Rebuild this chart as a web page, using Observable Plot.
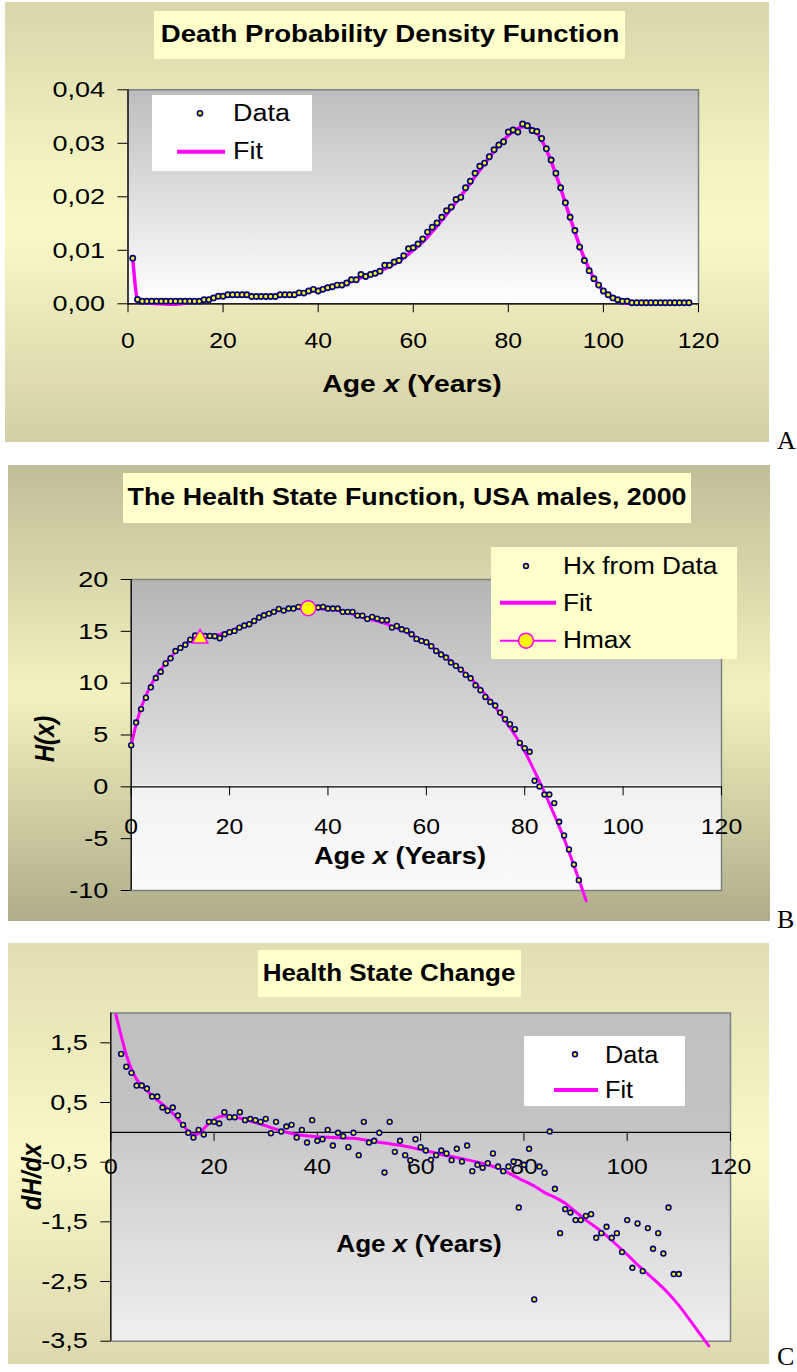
<!DOCTYPE html>
<html>
<head>
<meta charset="utf-8">
<title>Death Probability Density / Health State Function / Health State Change</title>
<script src="https://cdn.jsdelivr.net/npm/d3@7"></script>
<script src="https://cdn.jsdelivr.net/npm/@observablehq/plot@0.6"></script>
<style>
html, body { margin: 0; padding: 0; background: #ffffff; }
body { width: 797px; height: 1372px; overflow: hidden; }
#root { position: relative; width: 797px; height: 1372px; overflow: hidden;
  font-family: 'Liberation Sans', Arial, Helvetica, sans-serif; color: #000; }
</style>
</head>
<body>
<div id="root"></div>
<script>
// ================= DATA =================
const xTicks = [0, 20, 40, 60, 80, 100, 120];

// ---- Panel A : death probability density (ages 1..118) ----
const ageStartA = 1;
const densityA = [
  0.0085, 0.0008,
  0.0005, 0.0005, 0.0005, 0.0005, 0.0005, 0.0005, 0.0005, 0.0005, 0.0005, 0.0005, 0.0005, 0.0005, 0.0005,
  0.00075, 0.00075, 0.0011, 0.0014, 0.0014, 0.0017, 0.0017, 0.0017, 0.0017, 0.0017,
  0.00136, 0.00136, 0.00136, 0.00136, 0.00136, 0.00136, 0.0017, 0.0017, 0.0017, 0.0017,
  0.00205, 0.0020, 0.0024, 0.0027, 0.0024, 0.0027, 0.0030, 0.0032, 0.0035, 0.0035,
  0.0039, 0.0045, 0.0045, 0.0055, 0.0051, 0.0055, 0.0057, 0.0061, 0.0072, 0.0072,
  0.0078, 0.0081, 0.0090, 0.0103, 0.0105, 0.0112, 0.0121, 0.0134, 0.0143, 0.0151,
  0.0162, 0.0174, 0.0181, 0.0195, 0.0199, 0.0217, 0.0229, 0.0244, 0.0257, 0.0263,
  0.0275, 0.0288, 0.0297, 0.0303, 0.0321, 0.0325, 0.0321, 0.0336, 0.0333, 0.0324,
  0.0322, 0.0309, 0.0290, 0.0269, 0.0244, 0.0217, 0.0189, 0.0162, 0.0137, 0.0106,
  0.0081, 0.0062, 0.0047, 0.0035, 0.0024, 0.0017, 0.0011, 0.00075, 0.0005, 0.0005,
  0.0002, 0.0002, 0.0002, 0.0002, 0.0002, 0.0002, 0.0002, 0.0002, 0.0002, 0.0002, 0.0002, 0.0002, 0.0002
];
const fitAgeA = [1, 2, 3, 5, 7, 9, 11, 13, 15, 17, 19, 21, 23, 25, 27, 29, 31, 33, 35, 37, 39, 41, 43, 45, 47, 49,
  51, 53, 55, 57, 59, 61, 63, 65, 67, 69, 71, 73, 75, 77, 79, 81, 83, 84, 85, 86, 87, 88, 89, 90, 91, 92, 93, 94,
  95, 96, 97, 98, 99, 100, 101, 102, 103, 104, 105, 106];
const fitDensityA = [0.0085, 0.0008, 0.0003, 0.0001, 0.0000, -0.0001, 0.0000, 0.0003, 0.0006, 0.0009, 0.0013,
  0.0015, 0.0015, 0.0014, 0.0014, 0.0014, 0.0015, 0.0017, 0.0019, 0.0022, 0.0025, 0.0028, 0.0032, 0.0036, 0.0042,
  0.0049, 0.0055, 0.0062, 0.0070, 0.0080, 0.0093, 0.0108, 0.0125, 0.0145, 0.0167, 0.0190, 0.0213, 0.0238, 0.0262,
  0.0285, 0.0306, 0.0322, 0.0331, 0.0331, 0.0327, 0.0319, 0.0306, 0.0288, 0.0266, 0.0242, 0.0216, 0.0188, 0.0161,
  0.0134, 0.0108, 0.0085, 0.0065, 0.0048, 0.0035, 0.0024, 0.0016, 0.0010, 0.0006, 0.0003, 0.0001, 0.0000];
const yTicksA = [0, 0.01, 0.02, 0.03, 0.04];

// ---- Panel B : health state function (ages 0..91) ----
const ageStartB = 0;
const healthB = [
  4.02, 6.2, 7.5, 8.6, 9.6, 10.5, 11.1, 11.9, 12.4, 13.1,
  13.4, 13.7, 14.2, 14.6, 14.5, 14.55, 14.56, 14.53, 14.34, 14.72,
  14.92, 15.04, 15.36, 15.56, 15.69, 16.0, 16.33, 16.55, 16.71, 16.88,
  17.16, 17.0, 17.2, 17.2, 17.36, 17.3, 17.23, 17.3, 17.3, 17.36,
  17.2, 17.2, 17.2, 16.88, 16.88, 16.88, 16.52, 16.52, 16.2, 16.39,
  16.23, 16.07, 16.07, 15.36, 15.52, 15.2, 15.07, 14.72, 14.27, 14.08,
  13.95, 13.57, 13.11, 12.76, 12.47, 11.99, 11.67, 11.31, 10.80, 10.47,
  9.80, 9.32, 8.67, 8.19, 7.84, 7.16, 6.53, 6.04, 5.56, 4.24,
  3.73, 3.38, 0.58, 0.03, -0.74, -0.74, -1.57, -3.37, -4.69, -6.04, -7.49, -9.0
];
const fitAgeB = [0, 1, 2, 3, 4, 5, 6, 8, 10, 12, 14, 16, 18, 20, 22, 24, 26, 28, 30, 32, 34, 36, 38, 40, 42, 44,
  46, 48, 50, 52, 54, 56, 58, 60, 62, 64, 66, 68, 70, 72, 74, 76, 78, 80, 82, 84, 86, 88, 90, 92, 92.5];
const fitHealthB = [4.0, 6.0, 7.6, 8.8, 9.8, 10.6, 11.3, 12.5, 13.4, 14.1, 14.5, 14.6, 14.7, 15.0, 15.4, 15.8,
  16.3, 16.7, 17.0, 17.15, 17.25, 17.25, 17.2, 17.1, 17.0, 16.8, 16.5, 16.2, 16.0, 15.7, 15.3, 14.9, 14.4, 13.9,
  13.2, 12.5, 11.7, 10.9, 10.0, 8.9, 7.7, 6.4, 5.0, 3.4, 1.5, -0.5, -2.7, -5.0, -7.6, -10.3, -11.0];
const hmaxAge = [36], hmaxValue = [17.23];
const markAge = [14], markValue = [14.3];
const yTicksB = [-10, -5, 0, 5, 10, 15, 20];

// ---- Panel C : health state change (ages 2..110) ----
const ageStartC = 2;
const changeC = [
  1.315, 1.10, 0.997, 0.784, 0.784, 0.734, 0.600, 0.600, 0.416, 0.360,
  0.416, 0.282, 0.126, -0.008, -0.087, 0.042, -0.036, 0.176, 0.176, 0.148,
  0.338, 0.254, 0.254, 0.338, 0.204, 0.226, 0.204, 0.176, 0.226, -0.014,
  0.176, 0.014, 0.098, 0.126, -0.087, 0.042, -0.170, 0.204, -0.142, -0.115,
  0.042, -0.221, -0.008, -0.064, -0.248, -0.008, -0.382, 0.176, -0.170, -0.142,
  -0.008, -0.673, 0.176, -0.327, -0.142, -0.382, -0.466, -0.115, -0.248, -0.304,
  -0.461, -0.382, -0.304, -0.354, -0.466, -0.276, -0.489, -0.221, -0.650, -0.544,
  -0.595, -0.516, -0.354, -0.573, -0.650, -0.573, -0.489, -1.26, -0.544, -0.276,
  -2.80, -0.573, -0.678, 0.014, -0.946, -1.689, -1.287, -1.343, -1.471, -1.471,
  -1.399, -1.371, -1.767, -1.689, -1.583, -1.767, -1.689, -2.007, -1.471, -2.270,
  -1.527, -2.325, -1.605, -1.951, -1.689, -2.030, -1.260, -2.375, -2.375
];
const fitAgeC = [1, 2, 3, 4, 5, 6, 7, 8, 10, 12, 14, 15, 16, 17, 18, 19, 20, 21, 22, 23, 25, 27, 29, 31, 34, 37,
  40, 44, 47, 50, 53, 56, 60, 64, 68, 72, 75, 77, 79, 82, 84, 86, 88, 90, 92, 95, 97.5, 100, 102.5, 105, 108, 110,
  112, 114, 115.8];
const fitChangeC = [1.97, 1.62, 1.30, 1.06, 0.89, 0.78, 0.70, 0.61, 0.47, 0.32, 0.12, 0.02, -0.04, -0.02, 0.06,
  0.15, 0.22, 0.26, 0.28, 0.27, 0.24, 0.19, 0.14, 0.08, 0.0, -0.05, -0.075, -0.09, -0.10, -0.14, -0.18, -0.215,
  -0.29, -0.37, -0.44, -0.52, -0.60, -0.68, -0.77, -0.90, -1.01, -1.09, -1.19, -1.33, -1.47, -1.66, -1.85, -2.05,
  -2.26, -2.45, -2.70, -2.90, -3.13, -3.37, -3.58];
const yTicksC = [-3.5, -2.5, -1.5, -0.5, 0.5, 1.5];

// ================= HELPERS =================
const root = document.getElementById("root");
const FONT = "'Liberation Sans', Arial, Helvetica, sans-serif";
const MAGENTA = "#ff00ff", YELLOW = "#ffff00", NAVY = "#000080";

function div(css, html) {
  const e = document.createElement("div");
  e.style.position = "absolute";
  Object.assign(e.style, css);
  if (html != null) e.innerHTML = html;
  root.appendChild(e);
  return e;
}
function box(l, t, w, h, bg) {
  return div({left: l + "px", top: t + "px", width: w + "px", height: h + "px", background: bg});
}
function txt(html, x, cy, o = {}) {
  const size = o.size || 23, lh = Math.round(size * 1.4), sx = o.sx || 1;
  const e = div({left: x + "px", top: (cy - lh / 2) + "px", height: lh + "px", lineHeight: lh + "px",
    fontSize: size + "px", fontWeight: o.weight || "normal", fontStyle: o.italic ? "italic" : "normal",
    whiteSpace: "nowrap", fontFamily: o.family || FONT}, html);
  if ((o.anchor || "middle") === "middle") {
    e.style.transformOrigin = "50% 50%";
    e.style.transform = `translateX(-50%) scaleX(${sx})`;
  } else {
    e.style.transformOrigin = "0 50%";
    e.style.transform = `scaleX(${sx})`;
  }
  return e;
}
function vtxt(label, cx, cy, size, sy) {
  const lh = Math.round(size * 1.4);
  const e = div({left: cx + "px", top: cy + "px", height: lh + "px", lineHeight: lh + "px", fontSize: size + "px",
    fontWeight: "bold", fontStyle: "italic", whiteSpace: "nowrap", fontFamily: FONT,
    transform: `translate(-50%,-50%) rotate(-90deg) scaleY(${sy})`});
  e.textContent = label;
  return e;
}
// widen SVG text horizontally around its anchor point (keeps em-based y offsets intact)
function stretchText(svg, sxEnd, sxMid) {
  svg.querySelectorAll("text").forEach(t => {
    const a = t.closest("[text-anchor]");
    const anchor = a ? a.getAttribute("text-anchor") : "middle";
    const sx = anchor === "end" ? sxEnd : sxMid;
    const tr = t.getAttribute("transform") || "";
    t.setAttribute("transform", `${tr} scale(${sx},1)`);
  });
}
const svgStyle = top => `position:absolute;left:0px;top:${top}px;background:none;max-width:none;overflow:visible;font-size:22.5px;font-family:${FONT};`;

const dataA = densityA.map((v, i) => ({age: ageStartA + i, v}));
const fitA = fitAgeA.map((a, i) => ({age: a, v: fitDensityA[i]}));
const dataB = healthB.map((v, i) => ({age: ageStartB + i, v}));
const fitB = fitAgeB.map((a, i) => ({age: a, v: fitHealthB[i]}));
const hmaxB = hmaxAge.map((a, i) => ({age: a, v: hmaxValue[i]}));
const markB = markAge.map((a, i) => ({age: a, v: markValue[i]}));
const dataC = changeC.map((v, i) => ({age: ageStartC + i, v}));
const fitC = fitAgeC.map((a, i) => ({age: a, v: fitChangeC[i]}));

// ================= PANEL BACKGROUNDS =================
box(5, 2, 764, 440, "linear-gradient(180deg, #d8d6ab 0%, #f2f2c1 36%, #f9f9c8 52%, #d2cfa5 100%)");
box(8, 465, 762, 456, "linear-gradient(180deg, #bfbe98 0%, #f2f2bf 50%, #afad89 100%)");
box(8, 943, 761, 421, "linear-gradient(180deg, #e1deb3 0%, #f8f8c8 50%, #dcd9ae 100%)");

box(154, 11, 471, 48, "#ffffcc");
box(123, 473, 568, 50, "#ffffcc");
box(258, 950, 263, 47, "#ffffcc");

box(127.5, 89.3, 570.5, 214, "linear-gradient(180deg, #bdbdbd 0%, #ffffff 100%)");
box(130.7, 579, 590.3, 311, "linear-gradient(180deg, #b5b5b5 0%, #e4e4e4 66%, #f2f2f2 66.5%, #fafafa 100%)");
box(110.3, 1012.5, 619.7, 328.2, "linear-gradient(180deg, #c0c0c0 0%, #c3c3c3 36%, #c9c9c9 36.5%, #efefef 100%)");

// ================= PLOTS =================
const plotA = Plot.plot({
  width: 797, height: 440,
  marginLeft: 127.5, marginRight: 99, marginTop: 87.3, marginBottom: 138.7,
  x: {domain: [0, 120], axis: null},
  y: {domain: [0, 0.04]},
  style: svgStyle(2),
  marks: [
    Plot.frame({stroke: "#808080", strokeWidth: 1.5}),
    Plot.axisY(yTicksA, {tickSize: 10, tickPadding: 13, tickFormat: d => d.toFixed(2).replace(".", ","), label: null, stroke: "#000", fill: "#000"}),
    Plot.ruleX([0], {stroke: "#000", strokeWidth: 1.2}),
    Plot.ruleY([0], {stroke: "#000", strokeWidth: 1.2}),
    Plot.ruleX(xTicks, {x: d => d, y1: 0, y2: 0, insetBottom: -9, stroke: "#000"}),
    Plot.text(xTicks, {x: d => d, y: 0, dy: 37, text: d => String(d), fill: "#000"}),
    Plot.line(fitA, {x: "age", y: "v", stroke: MAGENTA, strokeWidth: 3.5, curve: "monotone-x"}),
    Plot.dot(dataA, {x: "age", y: "v", r: 2.6, fill: YELLOW, stroke: NAVY, strokeWidth: 1.7})
  ]
});
stretchText(plotA, 1.2, 1.1);
root.appendChild(plotA);

const plotB = Plot.plot({
  width: 797, height: 456,
  marginLeft: 130.7, marginRight: 76, marginTop: 114, marginBottom: 31,
  x: {domain: [0, 120], axis: null},
  y: {domain: [-10, 20]},
  style: svgStyle(465),
  marks: [
    Plot.frame({stroke: "#808080", strokeWidth: 1.5}),
    Plot.axisY(yTicksB, {tickSize: 10, tickPadding: 13, tickFormat: d => String(d), label: null, stroke: "#000", fill: "#000"}),
    Plot.ruleX([0], {stroke: "#000", strokeWidth: 1.2}),
    Plot.ruleY([0], {stroke: "#000", strokeWidth: 1.2}),
    Plot.ruleX(xTicks, {x: d => d, y1: 0, y2: 0, insetBottom: -9, stroke: "#000"}),
    Plot.text(xTicks, {x: d => d, y: 0, dy: 40, text: d => String(d), fill: "#000"}),
    Plot.line(fitB, {x: "age", y: "v", stroke: MAGENTA, strokeWidth: 3, curve: "monotone-x"}),
    Plot.dot(dataB, {x: "age", y: "v", r: 2.4, fill: YELLOW, stroke: NAVY, strokeWidth: 1.6}),
    Plot.dot(markB, {x: "age", y: "v", symbol: "triangle", r: 5.8, fill: YELLOW, stroke: MAGENTA, strokeWidth: 1.5}),
    Plot.dot(hmaxB, {x: "age", y: "v", r: 7.5, fill: YELLOW, stroke: MAGENTA, strokeWidth: 1.5})
  ]
});
stretchText(plotB, 1.2, 1.1);
root.appendChild(plotB);

const plotC = Plot.plot({
  width: 797, height: 421,
  marginLeft: 110.3, marginRight: 67, marginTop: 69.5, marginBottom: 23.3,
  x: {domain: [0, 120], axis: null},
  y: {domain: [-3.5, 2.0]},
  style: svgStyle(943),
  marks: [
    Plot.frame({stroke: "#808080", strokeWidth: 1.5}),
    Plot.axisY(yTicksC, {tickSize: 10, tickPadding: 13, tickFormat: d => d.toFixed(1).replace(".", ","), label: null, stroke: "#000", fill: "#000"}),
    Plot.ruleX([0], {stroke: "#000", strokeWidth: 1.2}),
    Plot.ruleY([0], {stroke: "#000", strokeWidth: 1.2}),
    Plot.ruleX(xTicks, {x: d => d, y1: 0, y2: 0, insetBottom: -9, stroke: "#000"}),
    Plot.text(xTicks, {x: d => d, y: 0, dy: 34.5, text: d => String(d), fill: "#000"}),
    Plot.line(fitC, {x: "age", y: "v", stroke: MAGENTA, strokeWidth: 3, curve: "monotone-x"}),
    Plot.dot(dataC, {x: "age", y: "v", r: 2.4, fill: YELLOW, stroke: NAVY, strokeWidth: 1.6})
  ]
});
stretchText(plotC, 1.2, 1.1);
root.appendChild(plotC);

// ================= LEGENDS =================
box(152, 95, 160, 76, "#ffffff");
box(491, 547, 246, 112, "#ffffcc");
box(524, 1036, 161, 70, "#ffffff");

const ov = d3.create("svg").attr("width", 797).attr("height", 1372)
  .style("position", "absolute").style("left", "0px").style("top", "0px").style("pointer-events", "none");
function legDot(x, y, r) { ov.append("circle").attr("cx", x).attr("cy", y).attr("r", r).attr("fill", YELLOW).attr("stroke", NAVY).attr("stroke-width", 1.6); }
function legLine(x1, x2, y, w) { ov.append("line").attr("x1", x1).attr("x2", x2).attr("y1", y).attr("y2", y).attr("stroke", MAGENTA).attr("stroke-width", w); }
legDot(200, 113.3, 2.6); legLine(177, 225, 151.7, 4);
legDot(526, 566, 2.4); legLine(500, 556, 602.7, 4); legLine(500, 556, 640.7, 2);
ov.append("circle").attr("cx", 526).attr("cy", 640.7).attr("r", 7.5).attr("fill", YELLOW).attr("stroke", MAGENTA).attr("stroke-width", 1.5);
legDot(575, 1054.3, 2.4); legLine(554, 598, 1090, 4);
root.appendChild(ov.node());

txt("Data", 232.7, 113, {anchor: "start", sx: 1.17});
txt("Fit", 232.7, 151, {anchor: "start", sx: 1.17});
txt("Hx from Data", 563, 566, {anchor: "start", sx: 1.14});
txt("Fit", 563, 602.5, {anchor: "start", sx: 1.14});
txt("Hmax", 563, 640, {anchor: "start", sx: 1.14});
txt("Data", 605, 1055, {anchor: "start", sx: 1.1});
txt("Fit", 605, 1090, {anchor: "start", sx: 1.1});

// ================= TITLES & AXIS TITLES =================
txt("Death Probability Density Function", 389.5, 34, {weight: "bold", sx: 1.2});
txt("The Health State Function, USA males, 2000", 407, 497, {weight: "bold", sx: 1.165});
txt("Health State Change", 389, 972.5, {weight: "bold", sx: 1.13});

txt("Age <i>x</i> (Years)", 411.5, 383.5, {weight: "bold", sx: 1.23});
txt("Age <i>x</i> (Years)", 400, 855.5, {weight: "bold", sx: 1.18});
txt("Age <i>x</i> (Years)", 419, 1243.5, {weight: "bold", sx: 1.135});

vtxt("H(x)", 44.5, 738.5, 24, 1.15);
vtxt("dH/dx", 32, 1177, 24, 1.15);

// panel letters (kept fully inside the page)
function letter(ch, baseline) {
  const s = 26, lh = 34;
  div({left: "777px", top: (baseline - lh / 2 - 0.3375 * s) + "px", height: lh + "px", lineHeight: lh + "px",
    fontSize: s + "px", fontFamily: "'Liberation Serif', 'Times New Roman', serif", whiteSpace: "nowrap"}, ch);
}
letter("A", 450);
letter("B", 929);
letter("C", 1366);
</script>
</body>
</html>
